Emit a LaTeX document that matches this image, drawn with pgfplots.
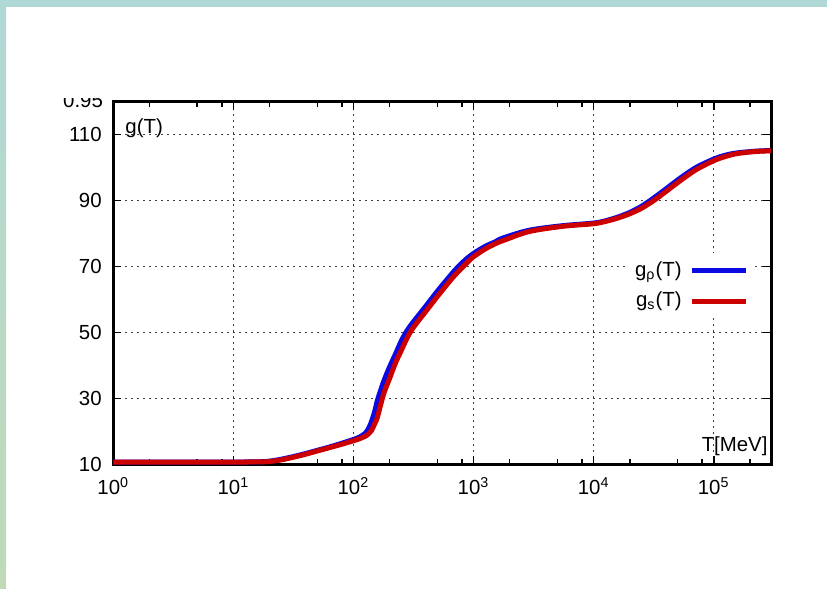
\documentclass[border=0pt]{standalone}
\usepackage{fontspec}
\setmainfont{Liberation Sans}
\usepackage{pgfplots}
\pgfplotsset{compat=1.18}
\definecolor{gblue}{RGB}{10,10,225}
\definecolor{gred}{RGB}{205,0,0}
\definecolor{frameA}{RGB}{176,216,214}
\definecolor{frameB}{RGB}{192,218,184}
\newcommand{\lblfont}{\fontsize{10.2}{12}\selectfont}
\begin{document}
\begin{tikzpicture}
\useasboundingbox (0,0) rectangle (413.5pt,294.5pt);
\fill[white] (0,0) rectangle (413.5pt,294.5pt);
\fill[frameA] (0,290.8pt) rectangle (413.5pt,294.5pt);
\shade[top color=frameA, bottom color=frameB] (0,0) rectangle (3pt,294.5pt);
\begin{axis}[
  at={(56.65pt,62.25pt)}, anchor=south west,
  scale only axis, width=328.85pt, height=181.4pt,
  xmode=log, xmin=1, xmax=3e5, ymin=10, ymax=120,
  ytick={10,30,50,70,90,110},
  xtick={1,10,100,1000,10000,100000},
  xticklabels={10\textsuperscript{0},10\textsuperscript{1},10\textsuperscript{2},10\textsuperscript{3},10\textsuperscript{4},10\textsuperscript{5}},
  minor xtick={2,5,8,20,50,80,200,500,800,2000,5000,8000,20000,50000,80000,200000},
  grid=major,
  major grid style={black!75, line width=0.45pt, dash pattern=on 1pt off 2pt},
  axis line style={line width=1.5pt},
  tick style={black, line width=0.8pt},
  major tick length=4pt, minor tick length=2.5pt,
  tick align=inside,
  /pgf/number format/assume math mode=true,
  tick label style={font=\lblfont},
  yticklabel style={xshift=-2.3pt},
  xticklabel style={yshift=-3pt},
  clip mode=individual,
  legend plot pos=right,
  legend cell align=right,
  legend style={draw=none, fill=white, at={(0.9726,0.583)}, anchor=north east,
    font=\lblfont, inner xsep=2pt, inner ysep=2pt,
    row sep=2.5pt, /tikz/every odd column/.append style={column sep=2pt}},
  legend image code/.code={\draw[#1] (0pt,0pt) -- (27pt,0pt);},
]
\addplot[gblue, line width=2.5pt, smooth] coordinates {
(1,10.75) (10,10.75) (15.85,10.8) (19.95,11.0) (25.1,11.6) (31.6,12.4) (39.8,13.3)
(50.1,14.3) (63.1,15.3) (79.4,16.4) (100,17.6) (112.2,18.3) (125.9,19.5) (131.8,20.5)
(141.3,23) (151.4,26.5) (158.5,29.5) (177.8,35) (199.5,39.5) (223.9,43.5) (251.2,47.6)
(281.8,50.8) (316.2,53.3) (398.1,57.9) (501.2,62.6) (631,67) (724.4,69.5) (851.1,72)
(1000,74) (1259,76.2) (1514,77.5) (1738,78.6) (2884,81) (5495,82.4) (10000,83.2)
(12589,83.9) (15849,85) (19953,86.4) (25119,88.3) (31623,90.8) (39811,93.5)
(52481,96.8) (70795,100) (100000,102.6) (125893,103.8) (158489,104.5) (223872,105)
(300000,105.2)
};
\addlegendentry{g\textsubscript{ρ}(T)}
\addplot[gred, line width=2.5pt, smooth] coordinates {
(1,10.75) (10,10.75) (15.85,10.78) (19.95,10.9) (25.1,11.4) (31.6,12.2) (39.8,13.1)
(50.1,14.1) (63.1,15.1) (79.4,16.1) (100,17.2) (112.2,17.8) (125.9,18.6) (131.8,19.1)
(141.3,20.3) (151.4,22.6) (158.5,24.4) (177.8,31.2) (199.5,36) (223.9,40.8) (251.2,44.7)
(281.8,48.6) (316.2,51.6) (398.1,56.3) (501.2,61) (631,65.5) (724.4,68) (851.1,70.6)
(1000,73) (1259,75.4) (1514,76.9) (1738,77.8) (2884,80.6) (5495,82.2) (10000,83.0)
(12589,83.7) (15849,84.7) (19953,86) (25119,87.7) (31623,90) (39811,92.7)
(52481,96) (70795,99.3) (100000,102.1) (125893,103.4) (158489,104.3) (223872,104.9)
(300000,105.1)
};
\addlegendentry{g\textsubscript{s}(T)}
\node[anchor=west, font=\lblfont, inner sep=0pt] at (rel axis cs:0.0178,0.9275) {g(T)};
\node[anchor=east, font=\lblfont, inner sep=0pt] at (rel axis cs:0.9953,0.05) {T[MeV]};
\end{axis}
\begin{scope}
\clip (0,0) rectangle (56pt,245.35pt);
\node[anchor=east, font=\lblfont, inner sep=0pt] at (51.65pt,244.2pt) {0.95};
\end{scope}
\end{tikzpicture}
\end{document}
